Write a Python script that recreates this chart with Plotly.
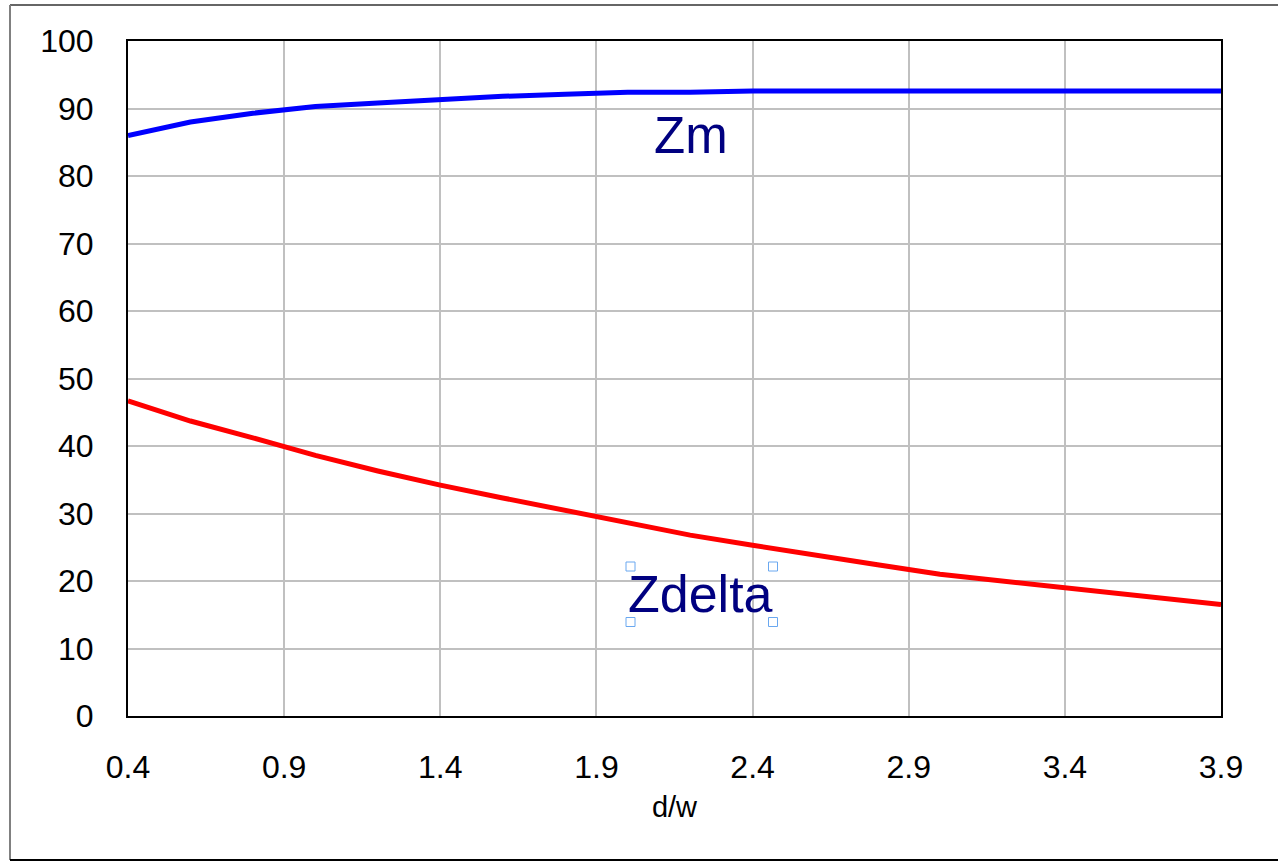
import plotly.graph_objects as go

# ---- data ----
dw = [0.4, 0.6, 0.8, 1.0, 1.2, 1.4, 1.6, 1.8, 2.0, 2.2, 2.4, 2.6, 2.8, 3.0, 3.2, 3.4, 3.6, 3.8, 3.9]
zm = [86.0, 88.0, 89.3, 90.3, 90.8, 91.3, 91.8, 92.1, 92.4, 92.4, 92.6, 92.6, 92.6, 92.6, 92.6, 92.6, 92.6, 92.6, 92.6]
zdelta = [46.7, 43.7, 41.2, 38.6, 36.3, 34.2, 32.3, 30.5, 28.7, 26.8, 25.3, 23.8, 22.4, 21.0, 20.0, 19.0, 18.0, 17.1, 16.5]
x_ticks = [0.4, 0.9, 1.4, 1.9, 2.4, 2.9, 3.4, 3.9]
y_ticks = [0, 10, 20, 30, 40, 50, 60, 70, 80, 90, 100]

W, H = 1278, 862
L, R, T, B = 128, 57, 41, 146
FONT = "Liberation Sans, Arial, sans-serif"

fig = go.Figure()
fig.add_trace(go.Scatter(x=dw, y=zm, mode="lines", name="Zm",
                         line=dict(color="#0000FF", width=5)))
fig.add_trace(go.Scatter(x=dw, y=zdelta, mode="lines", name="Zdelta",
                         line=dict(color="#FF0000", width=5)))

pw, ph = W - L - R, H - T - B
def px2paper(px, py):
    return (px - L) / pw, (H - B - py) / ph

shapes = []
# outer frame (open on the right, as in the reference)
x0, y0 = px2paper(10, 5)
x1, y1 = px2paper(1290, 860)
shapes.append(dict(type="line", xref="paper", yref="paper", x0=x0, y0=y0, x1=x1, y1=y0,
                   line=dict(color="#333333", width=1.5)))
shapes.append(dict(type="line", xref="paper", yref="paper", x0=x0, y0=y0, x1=x0, y1=y1,
                   line=dict(color="#808080", width=2)))
shapes.append(dict(type="line", xref="paper", yref="paper", x0=x0, y0=y1, x1=x1, y1=y1,
                   line=dict(color="#000000", width=2)))
# selection handles around the Zdelta label
for hx, hy in [(630.5, 566.5), (773, 566.5), (630.5, 622), (773, 622)]:
    cx, cy = px2paper(hx, hy)
    shapes.append(dict(type="rect", xref="paper", yref="paper",
                       xsizemode="pixel", ysizemode="pixel", xanchor=cx, yanchor=cy,
                       x0=-4.5, x1=4.5, y0=-4.5, y1=4.5,
                       line=dict(color="#6aa8f0", width=1), fillcolor="white"))

ax_zm = px2paper(691, 135)
ax_zd = px2paper(700.5, 594)
annotations = [
    dict(text="Zm", xref="paper", yref="paper", x=ax_zm[0], y=ax_zm[1],
         xanchor="center", yanchor="middle", showarrow=False,
         font=dict(family=FONT, size=51, color="#000080")),
    dict(text="Zdelta", xref="paper", yref="paper", x=ax_zd[0], y=ax_zd[1],
         xanchor="center", yanchor="middle", showarrow=False,
         font=dict(family=FONT, size=52, color="#000080")),
]

fig.update_layout(
    width=W, height=H,
    margin=dict(l=L, r=R, t=T, b=B, autoexpand=False),
    paper_bgcolor="white", plot_bgcolor="white",
    showlegend=False,
    font=dict(family=FONT, color="#000000"),
    shapes=shapes, annotations=annotations,
)
fig.update_xaxes(range=[0.4, 3.9], tickvals=x_ticks, ticktext=[f"{v:.1f}" for v in x_ticks],
                 showgrid=True, gridcolor="#c0c0c0", gridwidth=1.5,
                 showline=True, linecolor="#000000", linewidth=2, mirror=True,
                 ticks="", tickfont=dict(size=32), ticklabelstandoff=22,
                 zeroline=False,
                 title=dict(text="d/w", font=dict(size=29), standoff=12))
fig.update_yaxes(range=[0, 100], tickvals=y_ticks,
                 showgrid=True, gridcolor="#c0c0c0", gridwidth=1.5,
                 showline=True, linecolor="#000000", linewidth=2, mirror=True,
                 ticks="", tickfont=dict(size=32), ticklabelstandoff=26,
                 zeroline=False)

fig.write_html("out.html", config={"displayModeBar": False},
               post_script="document.body.style.margin='0';document.body.style.overflow='hidden';")
